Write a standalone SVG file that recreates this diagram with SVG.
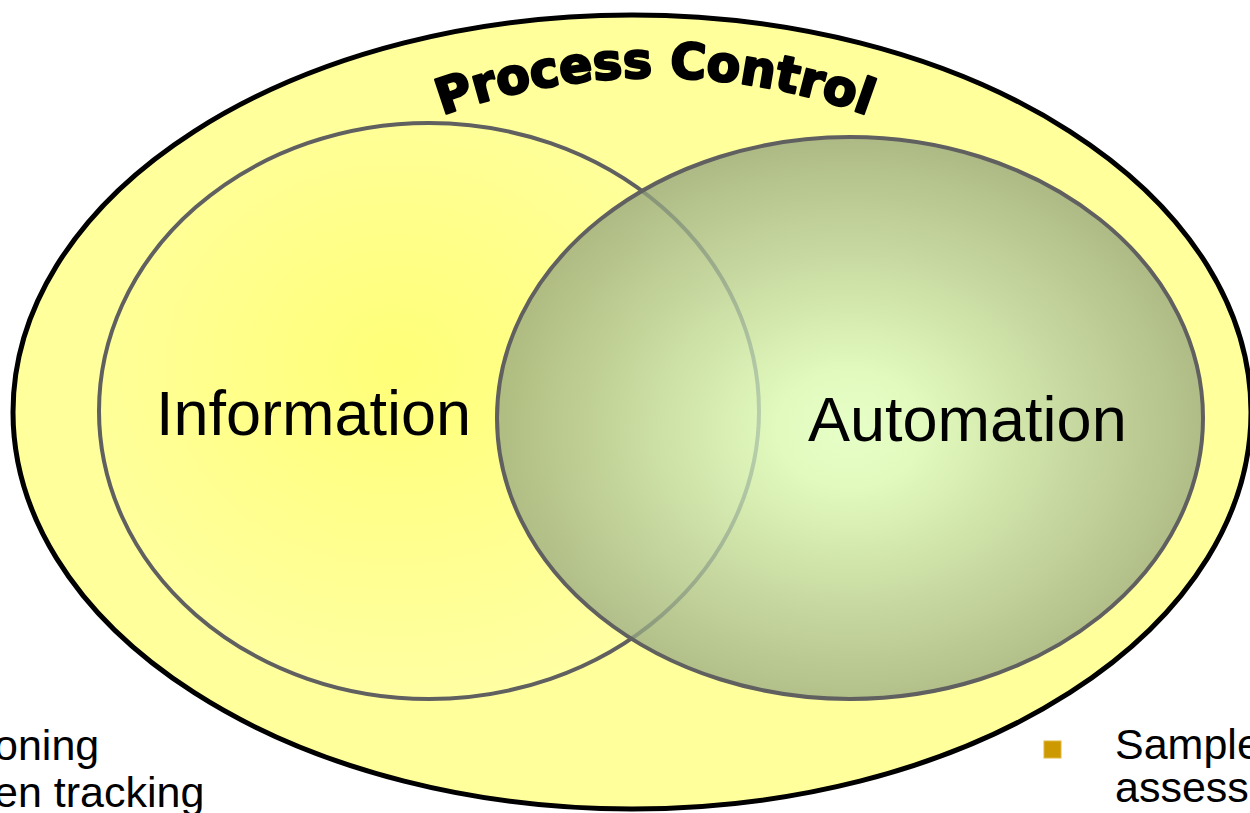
<svg xmlns="http://www.w3.org/2000/svg" width="1250" height="813" viewBox="0 0 1250 813">
  <defs>
    <radialGradient id="gInfo" cx="0.45" cy="0.42" r="0.6">
      <stop offset="0" stop-color="#FFFF78"/>
      <stop offset="1" stop-color="#FFFFA4"/>
    </radialGradient>
    <radialGradient id="gAuto" cx="0.5" cy="0.52" r="0.52">
      <stop offset="0" stop-color="#DEFFD6"/>
      <stop offset="0.2" stop-color="#D8F8C8"/>
      <stop offset="1" stop-color="#92A27C"/>
    </radialGradient>
    <path id="arcPC" d="M 420 124 A 617 617 0 0 1 890 124"/>
    <style>
      .ring { stroke: #606060; stroke-width: 4; }
      .big { font-family: "Liberation Sans", Arial, sans-serif; font-size: 63px; fill: #000; }
      .body { font-family: "Liberation Sans", Arial, sans-serif; font-size: 43px; fill: #000; }
      .title { font-family: "DejaVu Sans", "Liberation Sans", sans-serif; font-weight: bold; font-size: 49px; fill: #000; stroke: #000; stroke-width: 2.4; stroke-linejoin: round; }
    </style>
  </defs>
  <rect width="1250" height="813" fill="#FFFFFF"/>

  <g id="process-control">
    <ellipse cx="632" cy="412" rx="619" ry="397" fill="#FFFF9C" stroke="#000" stroke-width="5"/>
    <text class="title"><textPath href="#arcPC" startOffset="50%" text-anchor="middle">Process Control</textPath></text>
  </g>

  <g id="information">
    <ellipse class="ring" cx="429" cy="411" rx="330" ry="288" fill="url(#gInfo)"/>
    <text class="big" x="156" y="435">Information</text>
  </g>

  <g id="automation">
    <ellipse class="ring" cx="850" cy="418" rx="353" ry="281" fill="url(#gAuto)" fill-opacity="0.75"/>
    <text class="big" x="808" y="441">Automation</text>
  </g>

  <g id="connectors"/>

  <g id="left-notes">
    <text class="body" x="-6" y="760">oning</text>
    <text class="body" x="-6" y="807">en tracking</text>
  </g>

  <g id="right-notes">
    <rect x="1044" y="741" width="17" height="17" fill="#CC9900" stroke="#E0B840" stroke-width="1"/>
    <text class="body" x="1115" y="759">Sample</text>
    <text class="body" x="1115" y="802">assess</text>
  </g>
</svg>
